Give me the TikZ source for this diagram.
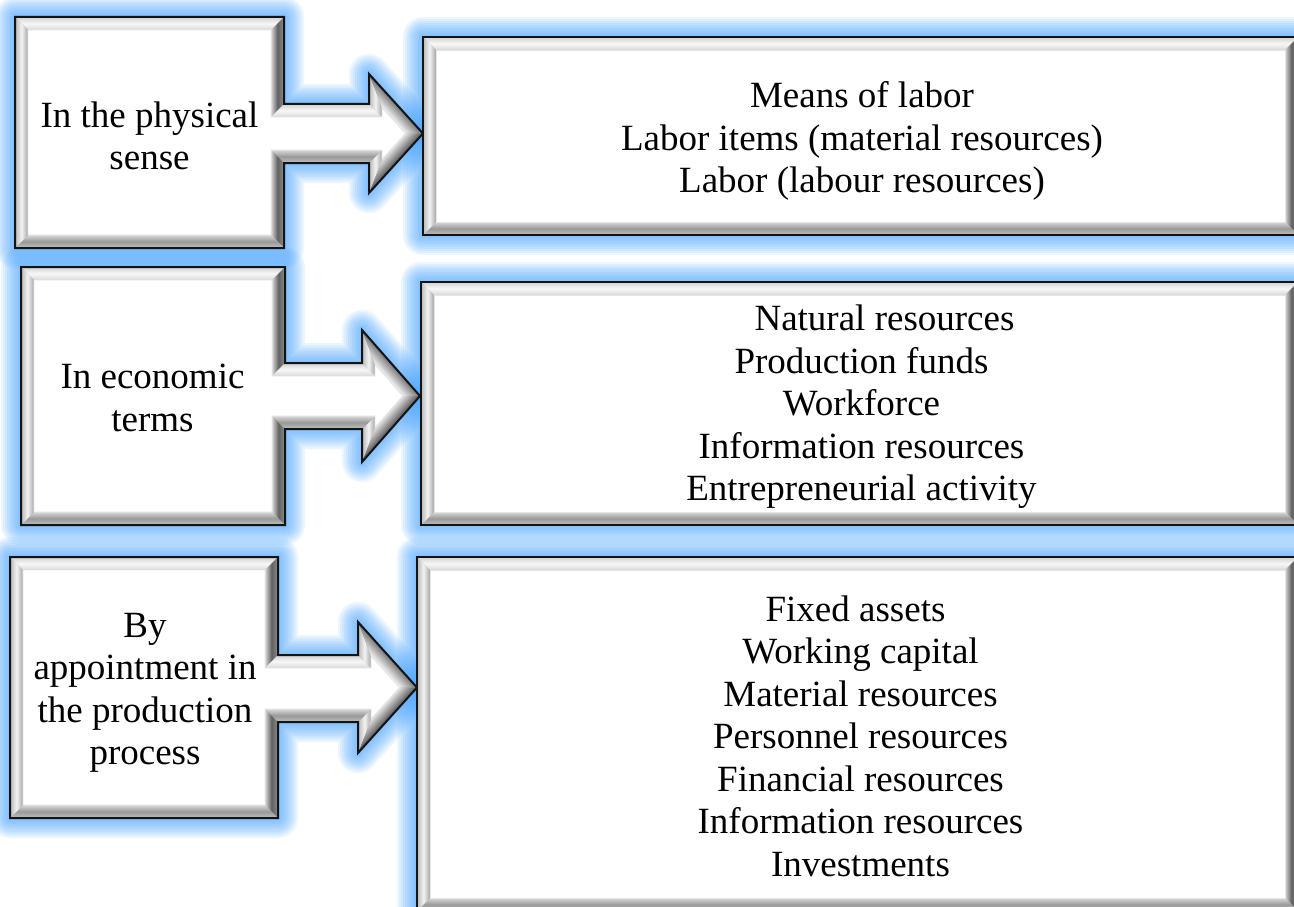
\documentclass[tikz,border=0pt]{standalone}
\usepackage{fontspec}
\setmainfont{Liberation Serif}
\usetikzlibrary{calc}

\definecolor{glowblue}{RGB}{60,160,255}
\definecolor{edgeline}{RGB}{20,20,20}

\tikzset{
  glow/.style={draw=glowblue, draw opacity=0.09, line join=round},
  outline/.style={draw=edgeline, line width=2pt, line join=miter},
  bevtop/.style={top color=black!18, bottom color=black!15, middle color=black!3},
  bevleft/.style={left color=black!28, right color=black!35, middle color=black!5},
  bevright/.style={left color=black!15, right color=black!45, middle color=black!62},
  bevbottom/.style={top color=black!15, bottom color=black!25, middle color=black!40},
  innerrim/.style={draw=black!10, line width=0.8pt, fill=white},
  boxtext/.style={font=\fontsize{37}{42.5}\selectfont, align=center, inner sep=0pt, text=black},
}

% bevel width
\def\bev{13}
% box-with-arrow shapes: left/top/right/bottom, shaft top/bottom, head x, head top/bottom, tip x
\def\calloutlist{15/17/284/248/104/163/369/74/193/423, 21/267/285/525/363/429/362/330/462/420, 10/557/278/818/655/722/358/622/753/417}
% plain list boxes: left/top/right/bottom
\def\boxlist{423/37/1298/235, 421/282/1298/525, 417/557/1298/911}

\begin{document}
\begin{tikzpicture}[x=1pt,y=-1pt]
\useasboundingbox (0,0) rectangle (1294,907);
\clip (0,0) rectangle (1294,907);
\fill[white] (0,0) rectangle (1294,907);

% soft blue halo behind every shape
\foreach \L/\T/\R/\B/\ST/\SB/\HX/\HT/\HB/\TX in \calloutlist {
  \pgfmathsetmacro\TY{(\HT+\HB)/2}
  \foreach \w in {40,36,...,4}
    \draw[glow, line width=\w] (\L,\T) -- (\R,\T) -- (\R,\ST) -- (\HX,\ST) -- (\HX,\HT) -- (\TX,\TY)
      -- (\HX,\HB) -- (\HX,\SB) -- (\R,\SB) -- (\R,\B) -- (\L,\B) -- cycle;
}
\foreach \L/\T/\R/\B in \boxlist {
  \foreach \w in {40,36,...,4}
    \draw[glow, line width=\w] (\L,\T) rectangle (\R,\B);
}

% bevelled box-with-arrow shapes
\foreach \L/\T/\R/\B/\ST/\SB/\HX/\HT/\HB/\TX in \calloutlist {
  \pgfmathsetmacro\TY{(\HT+\HB)/2}
  \pgfmathsetmacro\hdx{\TX-\HX}
  \pgfmathsetmacro\hdy{\TY-\HT}
  \pgfmathsetmacro\hlen{veclen(\hdx,\hdy)}
  \pgfmathsetmacro\Ax{\HX-\bev*\hdy/\hlen}
  \pgfmathsetmacro\Ay{\HT+\bev*\hdx/\hlen}
  \pgfmathsetmacro\Qfy{\Ay+(\HX+\bev-\Ax)*\hdy/\hdx}
  \pgfmathsetmacro\Qsx{\Ax+(\TY-\Ay)*\hdx/\hdy}
  \pgfmathsetmacro\Qvy{2*\TY-\Qfy}
  % outer outline
  \coordinate (P1) at (\L,\T);
  \coordinate (P2) at (\R,\T);
  \coordinate (P3) at (\R,\ST);
  \coordinate (P4) at (\HX,\ST);
  \coordinate (P5) at (\HX,\HT);
  \coordinate (P6) at (\TX,\TY);
  \coordinate (P7) at (\HX,\HB);
  \coordinate (P8) at (\HX,\SB);
  \coordinate (P9) at (\R,\SB);
  \coordinate (P10) at (\R,\B);
  \coordinate (P11) at (\L,\B);
  % inner face outline
  \coordinate (Q1) at (\L+\bev,\T+\bev);
  \coordinate (Q2) at (\R-\bev,\T+\bev);
  \coordinate (Q3) at (\R-\bev,\ST+\bev);
  \coordinate (Q4) at (\HX+\bev,\ST+\bev);
  \coordinate (Q5) at (\HX+\bev,\Qfy);
  \coordinate (Q6) at (\Qsx,\TY);
  \coordinate (Q7) at (\HX+\bev,\Qvy);
  \coordinate (Q8) at (\HX+\bev,\SB-\bev);
  \coordinate (Q9) at (\R-\bev,\SB-\bev);
  \coordinate (Q10) at (\R-\bev,\B-\bev);
  \coordinate (Q11) at (\L+\bev,\B-\bev);
  \fill[black!30] (P1) -- (P2) -- (P3) -- (P4) -- (P5) -- (P6) -- (P7) -- (P8) -- (P9) -- (P10) -- (P11) -- cycle;
  \shade[bevtop] (P1) -- (P2) -- (Q2) -- (Q1) -- cycle;
  \shade[bevright] (P2) -- (P3) -- (Q3) -- (Q2) -- cycle;
  \shade[bevtop] (P3) -- (P4) -- (Q4) -- (Q3) -- cycle;
  \shade[bevleft] (P4) -- (P5) -- (Q5) -- (Q4) -- cycle;
  \begin{scope}
    \clip (P5) -- (P6) -- (Q6) -- (Q5) -- cycle;
    \foreach \k in {0,...,12} {
      \pgfmathsetmacro\bt{(\k+0.5)/13}
      \pgfmathsetmacro\cc{55+(6-55)*\bt}
      \draw[black!\cc, line width=1.6pt, line cap=square] ($(P5)!\bt!(Q5)$) -- ($(P6)!\bt!(Q6)$);
    }
  \end{scope}
  \begin{scope}
    \clip (P6) -- (P7) -- (Q7) -- (Q6) -- cycle;
    \foreach \k in {0,...,12} {
      \pgfmathsetmacro\bt{(\k+0.5)/13}
      \pgfmathsetmacro\cc{66+(10-66)*\bt}
      \draw[black!\cc, line width=1.6pt, line cap=square] ($(P6)!\bt!(Q6)$) -- ($(P7)!\bt!(Q7)$);
    }
  \end{scope}
  \shade[bevleft] (P7) -- (P8) -- (Q8) -- (Q7) -- cycle;
  \shade[bevbottom] (P8) -- (P9) -- (Q9) -- (Q8) -- cycle;
  \shade[bevright] (P9) -- (P10) -- (Q10) -- (Q9) -- cycle;
  \shade[bevbottom] (P10) -- (P11) -- (Q11) -- (Q10) -- cycle;
  \shade[bevleft] (P11) -- (P1) -- (Q1) -- (Q11) -- cycle;
  \path[innerrim] (Q1) -- (Q2) -- (Q3) -- (Q4) -- (Q5) -- (Q6) -- (Q7) -- (Q8) -- (Q9) -- (Q10) -- (Q11) -- cycle;
  \draw[outline] (P1) -- (P2) -- (P3) -- (P4) -- (P5) -- (P6) -- (P7) -- (P8) -- (P9) -- (P10) -- (P11) -- cycle;
}

% bevelled list boxes
\foreach \L/\T/\R/\B in \boxlist {
  \coordinate (R1) at (\L,\T);
  \coordinate (R2) at (\R,\T);
  \coordinate (R3) at (\R,\B);
  \coordinate (R4) at (\L,\B);
  \coordinate (S1) at (\L+\bev,\T+\bev);
  \coordinate (S2) at (\R-\bev,\T+\bev);
  \coordinate (S3) at (\R-\bev,\B-\bev);
  \coordinate (S4) at (\L+\bev,\B-\bev);
  \fill[black!30] (R1) rectangle (R3);
  \shade[bevtop] (R1) -- (R2) -- (S2) -- (S1) -- cycle;
  \shade[bevright] (R2) -- (R3) -- (S3) -- (S2) -- cycle;
  \shade[bevbottom] (R3) -- (R4) -- (S4) -- (S3) -- cycle;
  \shade[bevleft] (R4) -- (R1) -- (S1) -- (S4) -- cycle;
  \path[innerrim] (S1) rectangle (S3);
  \draw[outline] (R1) rectangle (R3);
}

% texts
\node[boxtext] (phys) at (149.5,136) {In the physical\\sense};
\node[boxtext] (physlist) at (862,141) {Means of labor\\Labor items (material resources)\\Labor (labour resources)};
\node[boxtext] (econ) at (152.5,398) {In economic\\terms};
\node[boxtext] (econlist) at (861.5,407) {\hspace*{46pt}Natural resources\\Production funds\\Workforce\\Information resources\\Entrepreneurial activity};
\node[boxtext] (appt) at (145,693) {By\\appointment in\\the production\\process};
\node[boxtext] (apptlist) at (860.5,736) {Fixed assets\hspace*{10pt}\\Working capital\\Material resources\\Personnel resources\\Financial resources\\Information resources\\Investments};
\end{tikzpicture}
\end{document}
